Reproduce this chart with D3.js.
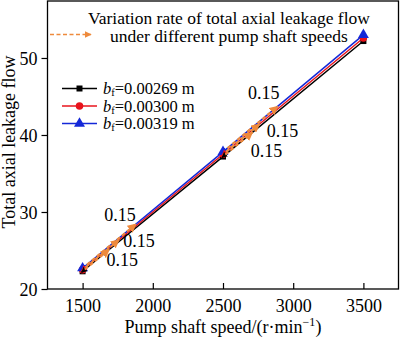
<!DOCTYPE html>
<html><head><meta charset="utf-8">
<script src="https://cdn.jsdelivr.net/npm/d3@7"></script>
<style>body{margin:0;background:#fff}svg{display:block;font-family:"Liberation Serif","Times New Roman",serif}</style>
</head><body><svg id="c" width="400" height="339"></svg>
<script>
const speeds = [1500, 2500, 3500];
const seriesNames = ["0.00269", "0.00300", "0.00319"];
const flow0269 = [22.3, 37.2, 52.2];
const flow0300 = [22.5, 37.5, 52.6];
const flow0319 = [22.7, 37.8, 53.0];
const xTicks = [1500, 2000, 2500, 3000, 3500];
const yTicks = [20, 30, 40, 50];
// annotation arrows: series index, start speed, end speed, label
const arrowSeries = [2, 1, 0, 2, 1, 0];
const arrowFrom = [1500, 1500, 1500, 2500, 2500, 2500];
const arrowTo = [1880, 1760, 1690, 2890, 2760, 2710];
const arrowLabel = ["0.15", "0.15", "0.15", "0.15", "0.15", "0.15"];

const colors = ["#000000", "#e8141c", "#1428d8"];
const shapes = [d3.symbolSquare, d3.symbolCircle, d3.symbolTriangle];
const symSizes = [36, 44, 52];
const orange = "#ee8a3c";
const series = [flow0269, flow0300, flow0319];

const svg = d3.select("#c");
const x = d3.scaleLinear().domain([1250, 3750]).range([47.5, 398.5]);
const y = d3.scaleLinear().domain([20, 57.4]).range([289, 1]);

const defs = svg.append("defs");
defs.append("marker").attr("id", "ah").attr("viewBox", "0 0 10 10").attr("refX", 9).attr("refY", 5)
  .attr("markerWidth", 4.5).attr("markerHeight", 4.5).attr("orient", "auto")
  .append("path").attr("d", "M0,0 L10,5 L0,10 z").attr("fill", orange);
colors.forEach((c, i) => {
  defs.append("marker").attr("id", "as" + i).attr("viewBox", "0 0 10 10").attr("refX", 9).attr("refY", 5)
    .attr("markerWidth", 4.5).attr("markerHeight", 4.5).attr("orient", "auto")
    .append("path").attr("d", "M0,0 L10,5 L0,10 z").attr("fill", c);
});

// axes
const gx = svg.append("g").attr("transform", "translate(0,289)")
  .call(d3.axisBottom(x).tickValues(xTicks).tickFormat(d3.format("d")).tickSizeInner(-6).tickSizeOuter(0).tickPadding(10));
const gy = svg.append("g").attr("transform", "translate(47.5,0)")
  .call(d3.axisLeft(y).tickValues(yTicks).tickFormat(d3.format("d")).tickSizeInner(6).tickSizeOuter(0).tickPadding(4));
[gx, gy].forEach(g => {
  g.select(".domain").remove();
  g.selectAll(".tick line").attr("stroke", "#000").attr("stroke-width", 1.2);
  g.selectAll(".tick text").attr("font-size", 18).attr("font-family", "Liberation Serif").attr("fill", "#000");
});
gy.selectAll(".tick text").attr("dy", "0.34em");

// frame
svg.append("rect").attr("x", 47.5).attr("y", 1).attr("width", 351).attr("height", 288)
  .attr("fill", "none").attr("stroke", "#000").attr("stroke-width", 1.3);

// series
const line = d3.line().x((d, i) => x(speeds[i])).y(d => y(d));
series.forEach((s, k) => {
  svg.append("path").datum(s).attr("d", line).attr("fill", "none")
    .attr("stroke", colors[k]).attr("stroke-width", 1.5);
});
series.forEach((s, k) => {
  svg.selectAll(".m" + k).data(s).enter().append("path")
    .attr("transform", (d, i) => `translate(${x(speeds[i])},${y(d)})`)
    .attr("d", d3.symbol().type(shapes[k]).size(symSizes[k])).attr("fill", colors[k]);
});

// annotation arrows along lines
function valAt(k, sp) {
  const s = series[k];
  const i = sp <= 2500 ? 0 : 1;
  const t = (sp - speeds[i]) / (speeds[i + 1] - speeds[i]);
  return s[i] + t * (s[i + 1] - s[i]);
}
const labelOff = [[-16, -9], [20, 1], [13, 10], [-14, -14], [23, 7], [14, 18]];
arrowFrom.forEach((f, j) => {
  const k = arrowSeries[j];
  const x0 = x(f), y0 = y(valAt(k, f)), x1 = x(arrowTo[j]), y1 = y(valAt(k, arrowTo[j]));
  const mx = x0 + (x1 - x0) * 0.08, my = y0 + (y1 - y0) * 0.08;
  svg.append("line").attr("x1", mx).attr("y1", my).attr("x2", x0 - 1).attr("y2", y0 + 1)
    .attr("stroke", colors[k]).attr("stroke-width", 1.3).attr("marker-end", `url(#as${k})`);
  svg.append("line").attr("x1", mx).attr("y1", my).attr("x2", x1).attr("y2", y1)
    .attr("stroke", orange).attr("stroke-width", 2).attr("stroke-dasharray", "4,2.5")
    .attr("marker-end", "url(#ah)");
  svg.append("text").attr("x", x1 + labelOff[j][0]).attr("y", y1 + labelOff[j][1])
    .attr("text-anchor", "middle").attr("dy", "0.35em").attr("font-size", 18).text(arrowLabel[j]);
});

// header annotation
svg.append("line").attr("x1", 50).attr("y1", 34.5).attr("x2", 91).attr("y2", 34.5)
  .attr("stroke", orange).attr("stroke-width", 1.6).attr("stroke-dasharray", "4,2.5").attr("marker-end", "url(#ah)");
svg.append("text").attr("x", 229).attr("y", 24).attr("text-anchor", "middle").attr("font-size", 17.5)
  .text("Variation rate of total axial leakage flow");
svg.append("text").attr("x", 229).attr("y", 42).attr("text-anchor", "middle").attr("font-size", 17.5)
  .text("under different pump shaft speeds");

// legend
const legY = [88.5, 106, 123.5];
seriesNames.forEach((n, k) => {
  svg.append("line").attr("x1", 62).attr("x2", 97).attr("y1", legY[k]).attr("y2", legY[k])
    .attr("stroke", colors[k]).attr("stroke-width", 1.5);
  svg.append("path").attr("transform", `translate(79.5,${legY[k]})`)
    .attr("d", d3.symbol().type(shapes[k]).size(symSizes[k])).attr("fill", colors[k]);
  const t = svg.append("text").attr("x", 103).attr("y", legY[k] + 5.5).attr("font-size", 16.5);
  t.append("tspan").attr("font-style", "italic").text("b");
  t.append("tspan").attr("font-size", 10.5).attr("dy", 2).text("f");
  t.append("tspan").attr("dy", -2).text("=" + n + " m");
});

// axis titles
const xt = svg.append("text").attr("x", 223).attr("y", 333).attr("text-anchor", "middle").attr("font-size", 18);
xt.append("tspan").text("Pump shaft speed/(r·min");
xt.append("tspan").attr("font-size", 12).attr("dy", -7).text("−1");
xt.append("tspan").attr("dy", 7).text(")");
svg.append("text").attr("transform", "translate(15,142) rotate(-90)").attr("text-anchor", "middle")
  .attr("font-size", 18).text("Total axial leakage flow");
</script></body></html>
